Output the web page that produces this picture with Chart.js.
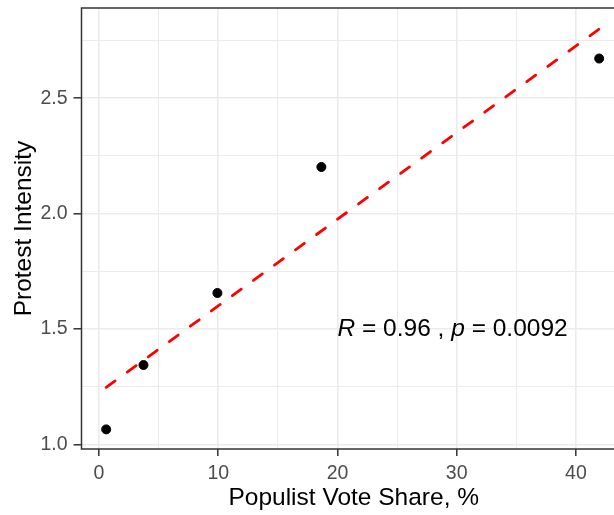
<!DOCTYPE html>
<html>
<head>
<meta charset="utf-8">
<script src="https://cdn.jsdelivr.net/npm/chart.js@4"></script>
<style>
  html, body { margin: 0; padding: 0; background: #fff; overflow: hidden; }
  #wrap { width: 626px; height: 515px; position: relative; }
</style>
</head>
<body>
<div id="wrap"><canvas id="scatterChart"></canvas></div>
<script>
// data
const voteShare = [0.6, 3.73, 9.93, 18.65, 41.95];
const protestIntensity = [1.065, 1.344, 1.656, 2.202, 2.672];

// fitted line (dashed red), end points
const fitX = [0.6, 41.95];
const fitY = [1.247, 2.80];

// axis ticks
const xTicks = [0, 10, 20, 30, 40];
const xMinor = [5, 15, 25, 35];
const yTicks = [1.0, 1.5, 2.0, 2.5];
const yMinor = [1.25, 1.75, 2.25, 2.75];

// correlation label
const corLabel = { x: 20, y: 1.5, r: "0.96", p: "0.0092" };

document.addEventListener("DOMContentLoaded", function () {
    const ctx = document.getElementById("scatterChart").getContext("2d");
    const fontFamily = "'Liberation Sans', Arial, sans-serif";
    Chart.defaults.font.family = fontFamily;

    const points = voteShare.map((v, i) => ({ x: v, y: protestIntensity[i] }));
    const fitLine = fitX.map((v, i) => ({ x: v, y: fitY[i] }));

    function setTicks(major, minor) {
        return function (scale) {
            scale.ticks = major.concat(minor).sort((a, b) => a - b).map(v => ({ value: v }));
        };
    }
    function isMajor(list, v) {
        return list.some(t => Math.abs(t - v) < 1e-9);
    }
    function noPad(scale) {
        scale.paddingTop = 0;
        scale.paddingBottom = 0;
        scale.paddingLeft = 0;
        scale.paddingRight = 0;
    }

    // panel frame + correlation text
    const extras = {
        id: "extras",
        afterDatasetsDraw(chart) {
            const c = chart.ctx;
            const a = chart.chartArea;
            c.save();
            c.strokeStyle = "#333333";
            c.lineWidth = 1.5;
            c.strokeRect(a.left, a.top, a.right - a.left, a.bottom - a.top);

            const px = chart.scales.x.getPixelForValue(corLabel.x);
            const py = chart.scales.y.getPixelForValue(corLabel.y);
            const parts = [
                ["italic", "R"],
                ["normal", " = " + corLabel.r + " , "],
                ["italic", "p"],
                ["normal", " = " + corLabel.p]
            ];
            c.fillStyle = "#000";
            c.textBaseline = "middle";
            c.textAlign = "left";
            let x = px;
            parts.forEach(function (p) {
                c.font = p[0] + " 24.5px " + fontFamily;
                c.fillText(p[1], x, py);
                x += c.measureText(p[1]).width;
            });
            c.restore();
        }
    };

    new Chart(ctx, {
        type: "scatter",
        data: {
            datasets: [{
                label: "Countries",
                data: points,
                backgroundColor: "#000",
                borderColor: "#000",
                pointRadius: 4.5,
                pointHoverRadius: 4.5,
                order: 0
            }, {
                label: "Fit",
                data: fitLine,
                showLine: true,
                borderColor: "#ff0000",
                borderWidth: 2.8,
                borderDash: [11, 15],
                borderCapStyle: "round",
                pointRadius: 0,
                order: 1
            }]
        },
        options: {
            responsive: true,
            maintainAspectRatio: false,
            animation: false,
            layout: { autoPadding: false, padding: { top: 8, left: 0, right: 0, bottom: 0 } },
            plugins: {
                legend: { display: false },
                tooltip: { enabled: false }
            },
            scales: {
                x: {
                    type: "linear",
                    min: -1.47,
                    max: 44.2,
                    afterBuildTicks: setTicks(xTicks, xMinor),
                    afterFit: function (scale) { scale.height = 66; noPad(scale); },
                    grid: {
                        color: "#ebebeb",
                        lineWidth: c => isMajor(xTicks, c.tick.value) ? 1.6 : 1.0,
                        tickColor: c => isMajor(xTicks, c.tick.value) ? "#333333" : "rgba(0,0,0,0)",
                        tickLength: 7,
                        tickWidth: 1.5
                    },
                    border: { display: false },
                    ticks: {
                        autoSkip: false,
                        maxRotation: 0,
                        padding: 6,
                        color: "#4d4d4d",
                        font: { size: 19.5 },
                        callback: v => isMajor(xTicks, v) ? String(v) : ""
                    },
                    title: {
                        display: true,
                        text: "Populist Vote Share, %",
                        color: "#000",
                        font: { size: 24.5 },
                        padding: { top: 0, bottom: 2 }
                    }
                },
                y: {
                    type: "linear",
                    min: 0.98,
                    max: 2.891,
                    afterBuildTicks: setTicks(yTicks, yMinor),
                    afterFit: function (scale) { scale.width = 81.5; noPad(scale); },
                    grid: {
                        color: "#ebebeb",
                        lineWidth: c => isMajor(yTicks, c.tick.value) ? 1.6 : 1.0,
                        tickColor: c => isMajor(yTicks, c.tick.value) ? "#333333" : "rgba(0,0,0,0)",
                        tickLength: 8,
                        tickWidth: 1.5
                    },
                    border: { display: false },
                    ticks: {
                        autoSkip: false,
                        padding: 6,
                        color: "#4d4d4d",
                        font: { size: 19.5 },
                        callback: v => isMajor(yTicks, v) ? v.toFixed(1) : ""
                    },
                    title: {
                        display: true,
                        text: "Protest Intensity",
                        color: "#000",
                        font: { size: 24.5 },
                        padding: { top: 9.5, bottom: 0 }
                    }
                }
            }
        },
        plugins: [extras]
    });
});
</script>
</body>
</html>
